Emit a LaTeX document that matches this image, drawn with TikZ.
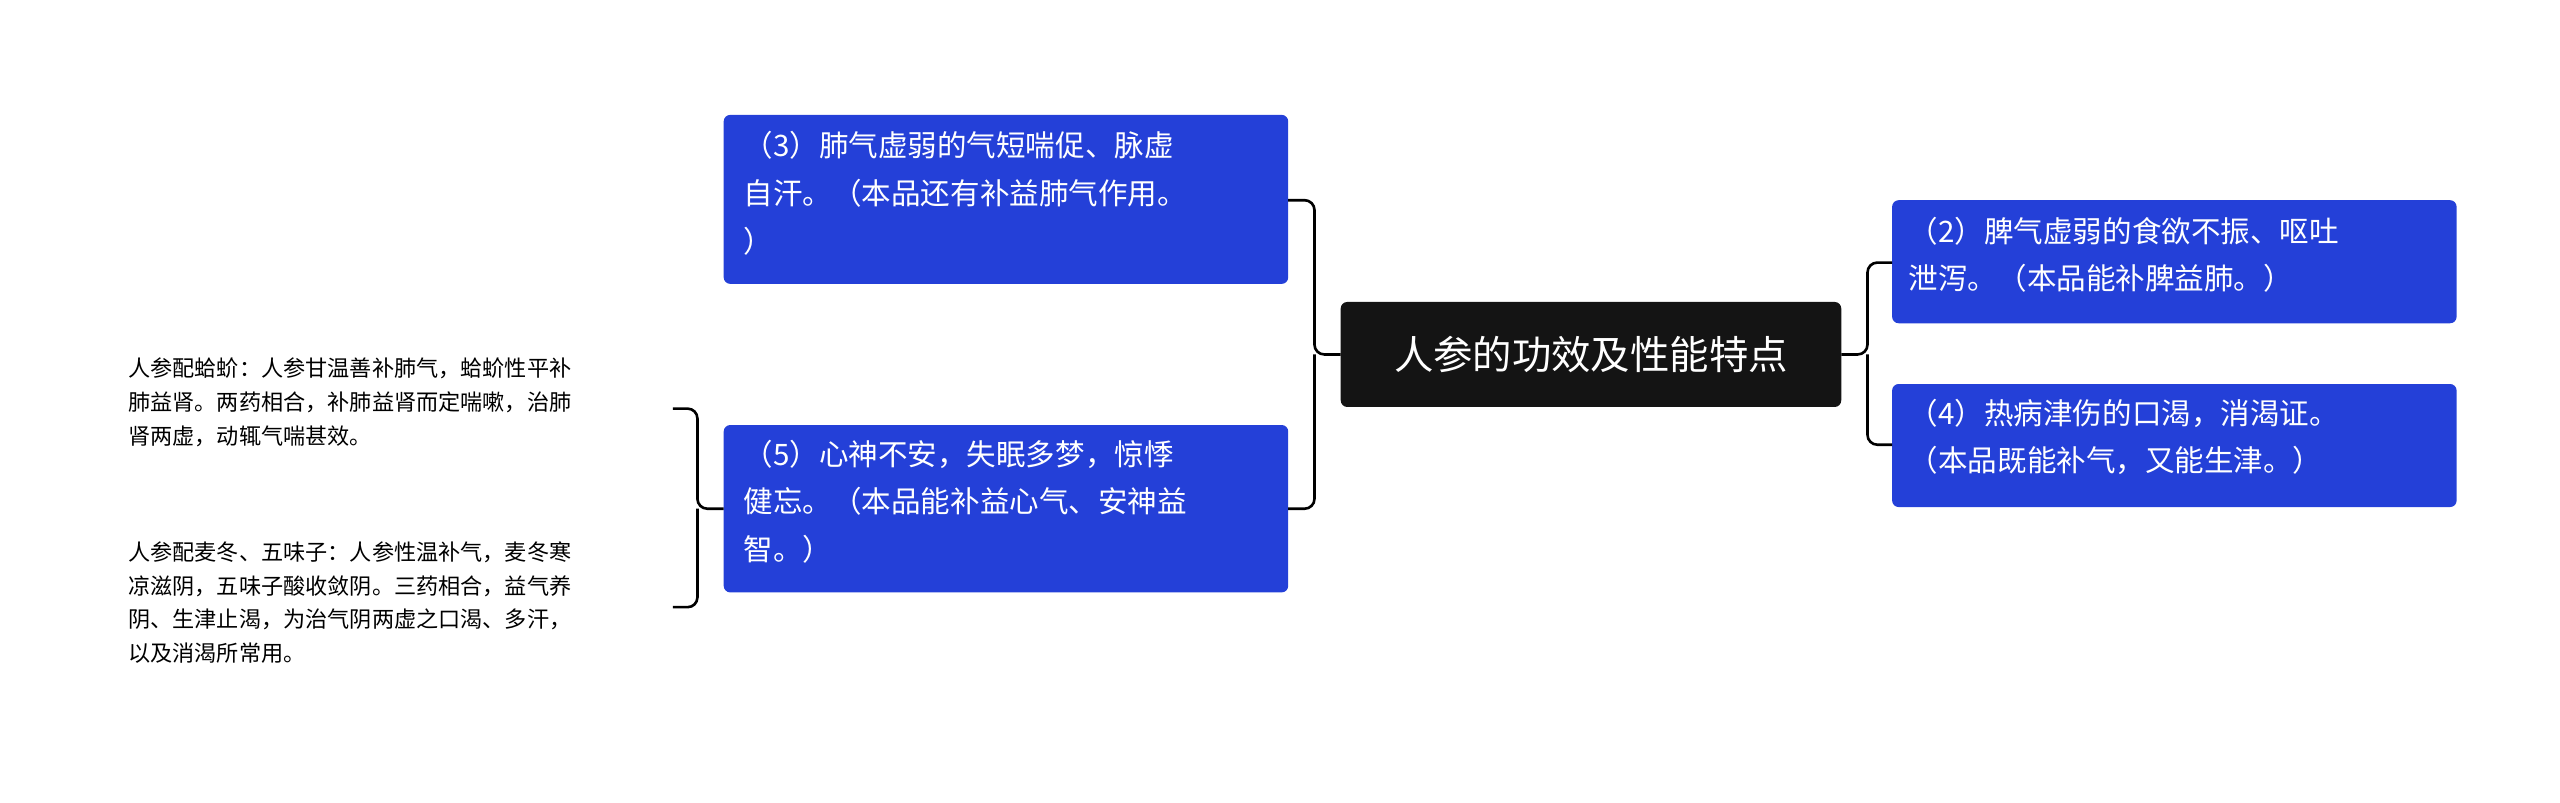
\documentclass[tikz,border=0pt]{standalone}
\usepackage{fontspec}
\newfontfamily\cjk{Noto Sans CJK SC}
\begin{document}
\begin{tikzpicture}[x=1pt,y=-1pt,
  blue box/.style={fill=blue!70!cyan!60!black, fill=mblue, rounded corners=3pt, text=white, font=\cjk\fontsize{18}{29}\selectfont, align=left, anchor=north west, inner sep=0pt},
  conn/.style={draw=black, line width=1.6pt, rounded corners=6pt},
  small/.style={font=\cjk\fontsize{13.5}{20.5}\selectfont, align=left, anchor=north west, inner sep=0pt}]
\definecolor{mblue}{HTML}{2440D8}
\useasboundingbox (0,0) rectangle (1560,489);
% central
\fill[black!92, rounded corners=4pt] (817,184) rectangle (1122,248);
\node[text=white, font=\cjk\fontsize{24}{28}\selectfont] (c) at (969.5,216) {人参的功效及性能特点};
\coordinate (cl) at (817,216);
\coordinate (cr) at (1122,216);
% boxes
\fill[mblue, rounded corners=4pt] (441,70) rectangle (785,173);
\node[blue box] (b3) at (453,80) {（3）肺气虚弱的气短喘促、脉虚\\自汗。（本品还有补益肺气作用。\\）};
\fill[mblue, rounded corners=4pt] (441,259) rectangle (785,361);
\node[blue box] (b5) at (453,268) {（5）心神不安，失眠多梦，惊悸\\健忘。（本品能补益心气、安神益\\智。）};
\fill[mblue, rounded corners=4pt] (1153,122) rectangle (1497,197);
\node[blue box] (b2) at (1163,132) {（2）脾气虚弱的食欲不振、呕吐\\泄泻。（本品能补脾益肺。）};
\fill[mblue, rounded corners=4pt] (1153,234) rectangle (1497,309);
\node[blue box] (b4) at (1163,243) {（4）热病津伤的口渴，消渴证。\\（本品既能补气，又能生津。）};
\coordinate (b3l) at (785,122);
\coordinate (b5l) at (785,310);
\coordinate (b2l) at (1153,160);
\coordinate (b4l) at (1153,271);
\coordinate (b5w) at (441,310);
% connectors
\draw[conn] (cl) -- (801,216) |- (b3l);
\draw[conn] (801,216) |- (b5l);
\draw[conn] (cr) -- (1138,216) |- (b2l);
\draw[conn] (1138,216) |- (b4l);
\draw[conn] (b5w) -- (425,310) |- (410,249);
\draw[conn] (425,310) |- (410,370);
% left texts
\node[small] (t1) at (78,218) {人参配蛤蚧：人参甘温善补肺气，蛤蚧性平补\\肺益肾。两药相合，补肺益肾而定喘嗽，治肺\\肾两虚，动辄气喘甚效。};
\node[small] (t2) at (78,330) {人参配麦冬、五味子：人参性温补气，麦冬寒\\凉滋阴，五味子酸收敛阴。三药相合，益气养\\阴、生津止渴，为治气阴两虚之口渴、多汗，\\以及消渴所常用。};
\end{tikzpicture}
\end{document}
